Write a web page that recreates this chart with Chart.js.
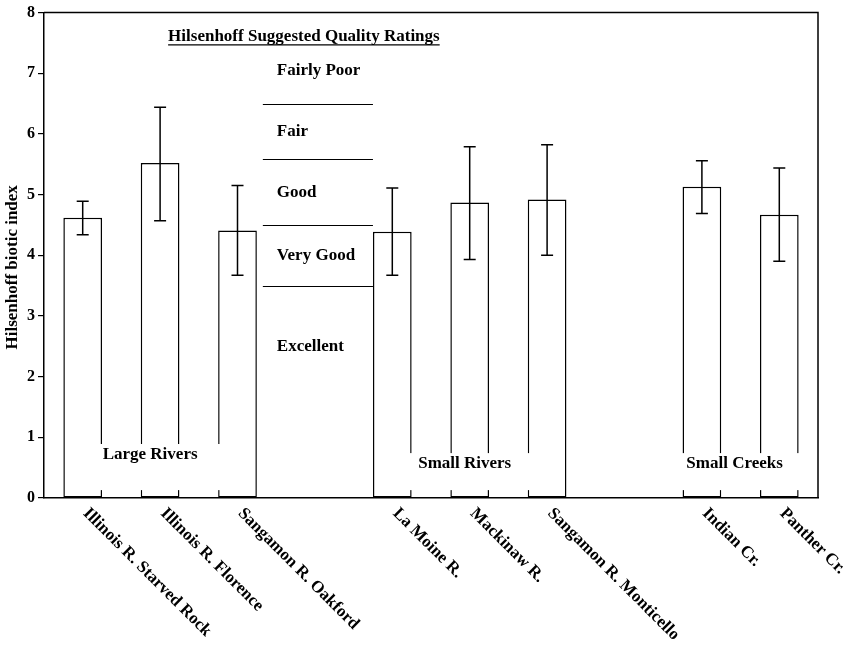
<!DOCTYPE html>
<html>
<head>
<meta charset="utf-8">
<script src="https://cdn.jsdelivr.net/npm/chart.js@4.4.1/dist/chart.umd.min.js"></script>
<style>
  html, body { margin: 0; padding: 0; background: #fff; }
</style>
</head>
<body>
<canvas id="grafico" width="844" height="651"></canvas>
<script>
// sitios (las posiciones vacias son los huecos entre grupos)
const sitios = ['Illinois R. Starved Rock', 'Illinois R. Florence', 'Sangamon R. Oakford', '',
                'La Moine R.', 'Mackinaw R.', 'Sangamon R. Monticello', '', 'Indian Cr.', 'Panther Cr.'];
const indice    = [4.62, 5.52, 4.41, null, 4.39, 4.87, 4.92, null, 5.13, 4.67];
const errorAlto = [4.89, 6.44, 5.15, null, 5.11, 5.79, 5.82, null, 5.56, 5.44];
const errorBajo = [4.34, 4.57, 3.67, null, 3.67, 3.93, 4.00, null, 4.69, 3.90];

// Hilsenhoff: limites entre categorias y donde va cada nombre
const limitesCalidad = [3.5, 4.5, 5.58, 6.5];
const nombresCalidad = ['Excellent', 'Very Good', 'Good', 'Fair', 'Fairly Poor'];
const nivelCalidad   = [2.5, 4.0, 5.04, 6.04, 7.05];

const grupos = ['Large Rivers', 'Small Rivers', 'Small Creeks'];
const ticksY = [0, 1, 2, 3, 4, 5, 6, 7, 8];

const fuente = '"Liberation Serif", "Times New Roman", Times, serif';

const extras = {
    id: 'extras',
    afterDatasetsDraw(chart) {
        const ctx = chart.ctx;
        const x = chart.scales.x;
        const y = chart.scales.y;
        const area = chart.chartArea;
        const barras = chart.getDatasetMeta(0).data;

        ctx.save();
        ctx.strokeStyle = '#000';
        ctx.fillStyle = '#000';

        // marco arriba y a la derecha
        ctx.lineWidth = 1.5;
        ctx.beginPath();
        ctx.moveTo(area.left, area.top);
        ctx.lineTo(area.right, area.top);
        ctx.lineTo(area.right, area.bottom);
        ctx.stroke();

        // barras de error
        indice.forEach((v, i) => {
            if (v === null) return;
            const cx = x.getPixelForValue(i);
            const yA = y.getPixelForValue(errorAlto[i]);
            const yB = y.getPixelForValue(errorBajo[i]);
            ctx.beginPath();
            ctx.moveTo(cx, yA); ctx.lineTo(cx, yB);
            ctx.moveTo(cx - 6, yA); ctx.lineTo(cx + 6, yA);
            ctx.moveTo(cx - 6, yB); ctx.lineTo(cx + 6, yB);
            ctx.stroke();
        });

        // cuadro de calidad entre Oakford y La Moine
        const izq = barras[2].x + barras[2].width / 2 + 6;
        const der = barras[4].x - barras[4].width / 2;
        ctx.lineWidth = 1.2;
        limitesCalidad.forEach(l => {
            const py = Math.round(y.getPixelForValue(l)) + 0.5;
            ctx.beginPath();
            ctx.moveTo(izq, py);
            ctx.lineTo(der, py);
            ctx.stroke();
        });

        ctx.font = 'bold 17px ' + fuente;
        ctx.textAlign = 'left';
        ctx.textBaseline = 'middle';
        nombresCalidad.forEach((n, i) => {
            ctx.fillText(n, izq + 14, y.getPixelForValue(nivelCalidad[i]));
        });

        // titulo subrayado
        const tx = x.getPixelForValue(3) - 11;
        const ty = y.getPixelForValue(7.6);
        const titulo = 'Hilsenhoff Suggested Quality Ratings';
        ctx.textAlign = 'center';
        ctx.fillText(titulo, tx, ty);
        const ancho = ctx.measureText(titulo).width;
        ctx.lineWidth = 1.2;
        ctx.beginPath();
        ctx.moveTo(tx - ancho / 2, ty + 8);
        ctx.lineTo(tx + ancho / 2, ty + 8);
        ctx.stroke();

        // nombres de grupo sobre fondo blanco
        const centros = [
            x.getPixelForValue(1),
            x.getPixelForValue(5),
            (x.getPixelForValue(8) + x.getPixelForValue(9)) / 2
        ];
        const desplaza = [-10, -5, -6];
        const arriba = [0.89, 0.74, 0.74];
        grupos.forEach((g, i) => {
            const top = y.getPixelForValue(arriba[i]);
            const bot = y.getPixelForValue(0.13);
            ctx.fillStyle = '#fff';
            ctx.fillRect(centros[i] - 62, top, 124, bot - top);
            ctx.fillStyle = '#000';
            ctx.fillText(g, centros[i] + desplaza[i], y.getPixelForValue(i === 0 ? 0.72 : 0.57));
        });

        ctx.restore();
    },
    afterDraw(chart) {
        const ctx = chart.ctx;
        const x = chart.scales.x;
        const area = chart.chartArea;
        ctx.save();
        ctx.fillStyle = '#000';
        ctx.font = 'bold 17px ' + fuente;

        // etiquetas del eje x inclinadas hacia abajo
        ctx.textAlign = 'left';
        ctx.textBaseline = 'middle';
        sitios.forEach((s, i) => {
            if (!s) return;
            ctx.save();
            ctx.translate(x.getPixelForValue(i) + 3, area.bottom + 13);
            ctx.rotate(Math.PI / 4);
            ctx.fillText(s, 0, 0);
            ctx.restore();
        });

        // titulo del eje y
        ctx.save();
        ctx.translate(13, (area.top + area.bottom) / 2 + 12);
        ctx.rotate(-Math.PI / 2);
        ctx.textAlign = 'center';
        ctx.fillText('Hilsenhoff biotic index', 0, 0);
        ctx.restore();

        ctx.restore();
    }
};

new Chart(document.getElementById('grafico').getContext('2d'), {
    type: 'bar',
    data: {
        labels: sitios,
        datasets: [{
            data: indice,
            backgroundColor: '#fff',
            borderColor: '#000',
            borderWidth: 1.5,
            borderSkipped: false,
            barPercentage: 0.5,
            categoryPercentage: 1.0
        }]
    },
    options: {
        responsive: false,
        animation: false,
        devicePixelRatio: 1,
        layout: { padding: { top: 10, right: 26, left: 0, bottom: 0 } },
        plugins: {
            legend: { display: false },
            tooltip: { enabled: false }
        },
        scales: {
            x: {
                grid: { display: false },
                border: { display: true, color: '#000', width: 1.5 },
                ticks: { display: false },
                afterFit: s => { s.height = 153; }
            },
            y: {
                min: 0,
                max: 8,
                afterBuildTicks: s => { s.ticks = ticksY.map(v => ({ value: v })); },
                grid: { drawOnChartArea: false, drawTicks: true, tickLength: 6, color: '#000', lineWidth: 1.2 },
                border: { display: true, color: '#000', width: 1.5 },
                ticks: {
                    color: '#000',
                    padding: 3,
                    font: { family: fuente, size: 16, weight: 'bold' }
                },
                afterFit: s => { s.width = 44; }
            }
        }
    },
    plugins: [extras]
});
</script>
</body>
</html>
